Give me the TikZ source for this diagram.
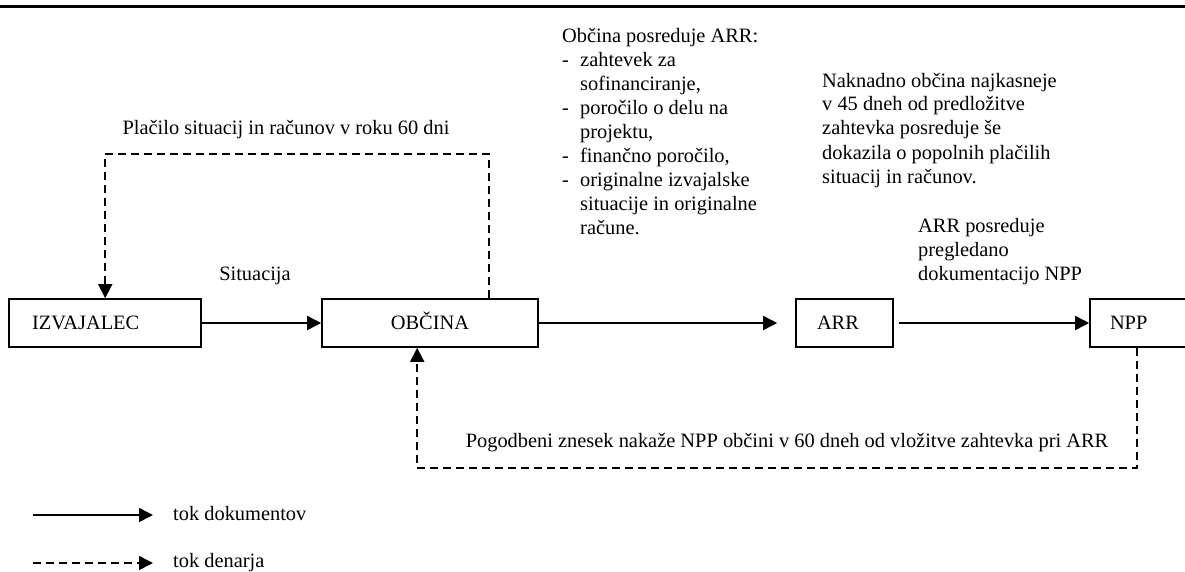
\documentclass[tikz,border=0pt]{standalone}
\usepackage{fontspec}
\setmainfont{Liberation Serif}
\usepackage{xcolor}
\usepackage{tikz}
\usetikzlibrary{calc,arrows.meta}
\definecolor{ink}{HTML}{000000}
\definecolor{paper}{HTML}{FFFFFF}
\tikzset{
  box/.style={draw=ink, line width=1.6pt, minimum height=48pt, text height=13.5pt, text depth=0pt, align=left, font=\fontsize{20.4}{24}\selectfont},
  doc/.style={draw=ink, line width=1.6pt, -{Triangle[length=14pt,width=14pt]}},
  money/.style={doc, dash pattern=on 8pt off 5pt},
  lab/.style={text=ink, inner sep=0pt, font=\fontsize{20.4}{24}\selectfont},
  bul/.style={lab, anchor=base west, align=left}
}
\newcommand{\dash}{\makebox[18pt][l]{-}}
\newcommand{\ind}{\hspace*{18pt}}

\begin{document}
\begin{tikzpicture}[x=1pt,y=-1pt]
  \useasboundingbox[fill=paper] (0,0) rectangle (1185,572);
  \draw[ink, line width=3pt] (0,6.5) -- (1185,6.5);

  \node[box, text width=146pt, inner xsep=23pt] (izv) at (105,323) {IZVAJALEC};
  \node[box, text width=196pt, inner xsep=10pt, align=center] (obc) at (430,323) {OBČINA};
  \node[box, text width=55pt, inner xsep=21pt] (arr) at (844.5,323) {ARR};
  \node[box, text width=80pt, inner xsep=20pt] (npp) at (1150,323) {NPP};

  \draw[doc] (izv) -- (obc);
  \draw[doc, shorten >=18pt] (obc) -- (arr);
  \draw[doc, shorten <=5pt] (arr) -- (npp);

  \draw[money] ($(obc.north west)+(168,0)$) -- ++(0,-144) -| ($(izv.north west)+(97,0)$);
  \draw[money] ($(npp.south west)+(48,0)$) -- ++(0,120) -| ($(obc.south west)+(96,0)$);

  \node[lab, anchor=base] (placilo) at (286,135) {Plačilo situacij in računov v roku 60 dni};
  \node[lab, anchor=base] (situacija) at (255,280) {Situacija};
  \node[bul] (obcposr) at (562,234) {Občina posreduje ARR:\\
    \dash zahtevek za\\ \ind sofinanciranje,\\
    \dash poročilo o delu na\\ \ind projektu,\\
    \dash finančno poročilo,\\
    \dash originalne izvajalske\\ \ind situacije in originalne\\ \ind račune.};
  \node[bul] (naknadno) at (822,183) {Naknadno občina najkasneje\\ v 45 dneh od predložitve\\
    zahtevka posreduje še\\ dokazila o popolnih plačilih\\ situacij in računov.};
  \node[bul] (arrposr) at (918,280) {ARR posreduje\\ pregledano\\ dokumentacijo NPP};
  \node[lab, anchor=base] (pogodbeni) at (787,447) {Pogodbeni znesek nakaže NPP občini v 60 dneh od vložitve zahtevka pri ARR};

  \node[lab, anchor=base west] (tokdok) at (173,520) {tok dokumentov};
  \node[lab, anchor=base west] (tokden) at (173,567) {tok denarja};
  \coordinate (legdok) at (33,515);
  \coordinate (legden) at (33,563);
  \draw[doc, shorten >=20pt] (legdok) -- (legdok -| tokdok.west);
  \draw[money, shorten >=20pt] (legden) -- (legden -| tokden.west);
\end{tikzpicture}
\end{document}
